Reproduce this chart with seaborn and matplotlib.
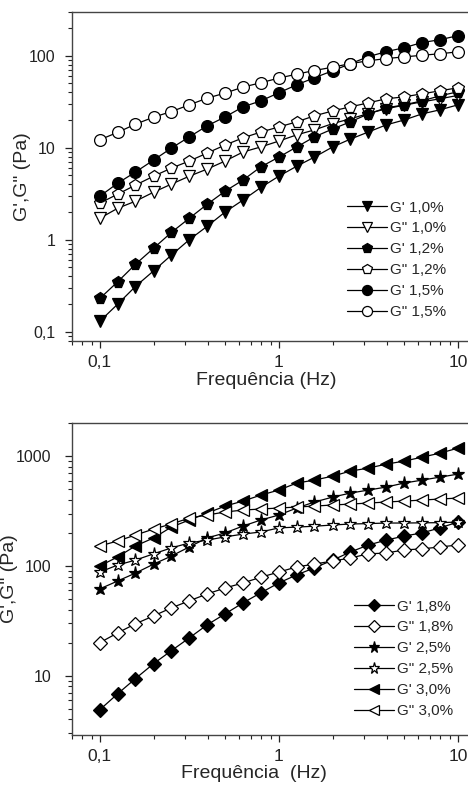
import numpy as np
import pandas as pd
import seaborn as sns
import matplotlib
matplotlib.use("Agg")
import matplotlib.pyplot as plt
from matplotlib.ticker import FuncFormatter, NullFormatter, LogLocator

# frequencies (Hz), 10 points per decade
freq = [0.1, 0.126, 0.158, 0.2, 0.251, 0.316, 0.398, 0.501, 0.631, 0.794,
        1.0, 1.26, 1.58, 2.0, 2.51, 3.16, 3.98, 5.01, 6.31, 7.94, 10.0]

# top panel (Pa)
g1_10 = [0.13, 0.20, 0.31, 0.46, 0.68, 1.0, 1.4, 2.0, 2.7, 3.7,
         4.9, 6.3, 7.9, 10.2, 12.4, 14.8, 17.7, 20.0, 23.3, 25.8, 29.2]
g2_10 = [1.71, 2.2, 2.62, 3.29, 4.02, 4.9, 5.86, 7.16, 8.98, 10.2,
         11.8, 13.8, 15.6, 18.3, 20.6, 23.5, 26.5, 29.0, 31.5, 34.0, 37.0]
g1_12 = [0.23, 0.35, 0.54, 0.81, 1.2, 1.71, 2.43, 3.37, 4.45, 6.2,
         7.9, 10.2, 13.1, 16.0, 19.1, 23.3, 27.1, 29.2, 32.3, 36.6, 40.5]
g2_12 = [2.5, 3.13, 3.92, 4.91, 6.0, 7.16, 8.75, 10.7, 12.8, 14.8,
         16.8, 19.1, 22.2, 25.1, 27.8, 30.7, 34.0, 35.7, 38.5, 41.5, 44.8]
g1_15 = [2.97, 4.12, 5.43, 7.35, 9.9, 13.1, 17.3, 21.6, 27.8, 32.3,
         39.5, 48.3, 57.5, 68.6, 81.8, 97.5, 110.6, 122, 139, 149, 165]
g2_15 = [12.2, 14.7, 18.0, 21.5, 24.7, 29.2, 34.6, 39.2, 45.6, 50.8,
         57.1, 63, 69, 75, 82, 88, 93, 97, 101, 105, 110]

# bottom panel (Pa)
g1_18 = [4.9, 6.86, 9.4, 12.9, 16.9, 22.1, 29.1, 36.6, 46.1, 57,
         70, 83, 96, 113, 134, 155, 172, 187, 200, 222, 251]
g2_18 = [20, 24.6, 29.7, 35.1, 41.5, 48.1, 55.6, 63, 70, 79,
         88, 98, 104, 111, 118, 129, 131, 140, 143, 149, 155]
g1_25 = [61.8, 73, 86, 104, 123, 149, 180, 200, 231, 262,
         291, 337, 382, 424, 461, 491, 523, 569, 605, 644, 686]
g2_25 = [88, 102, 113, 129, 146, 162, 172, 184, 195, 204,
         222, 226, 230, 236, 241, 243, 246, 246, 247, 248, 251]
g1_30 = [100, 121, 152, 180, 226, 262, 303, 351, 390, 442,
         491, 569, 605, 658, 731, 778, 846, 901, 979, 1065, 1182]
g2_30 = [152, 169, 191, 217, 241, 273, 291, 310, 323, 330,
         337, 344, 351, 359, 366, 374, 382, 390, 398, 407, 415]

top_series = [("G' 1,0%", g1_10, "v", True), ('G" 1,0%', g2_10, "v", False),
              ("G' 1,2%", g1_12, "p", True), ('G" 1,2%', g2_12, "p", False),
              ("G' 1,5%", g1_15, "o", True), ('G" 1,5%', g2_15, "o", False)]
bot_series = [("G' 1,8%", g1_18, "D", True), ('G" 1,8%', g2_18, "D", False),
              ("G' 2,5%", g1_25, "*", True), ('G" 2,5%', g2_25, "*", False),
              ("G' 3,0%", g1_30, "<", True), ('G" 3,0%', g2_30, "<", False)]

sns.set_style("ticks")
plt.rcParams["font.family"] = ["Liberation Sans", "DejaVu Sans"]

fig = plt.figure(figsize=(4.68, 7.85), dpi=100)
ax1 = fig.add_axes([0.154, 0.566, 0.846, 0.419])
ax2 = fig.add_axes([0.154, 0.064, 0.846, 0.397])

marker_size = {"v": 8.5, "p": 8.5, "o": 8.5, "D": 6.8, "*": 9.5, "<": 8.5}


def comma(v, pos):
    return ("%g" % v).replace(".", ",")


def draw(ax, series, ylim, xlabel, legend_xy, ypad, xlab_xy, ylab_x):
    ax.set_xscale("log")
    ax.set_yscale("log")
    for label, vals, mk, filled in series:
        sns.lineplot(x=freq, y=vals, ax=ax, color="black", lw=0.9,
                     marker=mk, markersize=marker_size[mk],
                     markeredgewidth=0.9, markeredgecolor="black",
                     markerfacecolor="black" if filled else "white",
                     label=label)
    ax.set_xlim(0.07, 11.4)
    ax.set_ylim(*ylim)
    ax.xaxis.set_major_locator(LogLocator(base=10))
    ax.yaxis.set_major_locator(LogLocator(base=10))
    ax.xaxis.set_minor_locator(LogLocator(base=10, subs=np.arange(2, 10)))
    ax.yaxis.set_minor_locator(LogLocator(base=10, subs=np.arange(2, 10)))
    ax.xaxis.set_major_formatter(FuncFormatter(comma))
    ax.yaxis.set_major_formatter(FuncFormatter(comma))
    ax.xaxis.set_minor_formatter(NullFormatter())
    ax.yaxis.set_minor_formatter(NullFormatter())
    ax.tick_params(which="major", direction="out", length=5, width=0.9,
                   colors="#222222")
    ax.tick_params(axis="x", which="major", labelsize=12.5, pad=5.5)
    ax.tick_params(axis="y", which="major", labelsize=11.5, pad=ypad)
    ax.tick_params(which="minor", direction="out", length=3, width=0.8,
                   colors="#222222")
    ax.spines["right"].set_visible(False)
    for s in ["left", "top", "bottom"]:
        ax.spines[s].set_color("#444444")
        ax.spines[s].set_linewidth(1.0)
    ax.set_xlabel(xlabel, fontsize=14, va="center")
    ax.xaxis.set_label_coords(*xlab_xy)
    ax.set_ylabel('G\',G" (Pa)', fontsize=14, va="center")
    ax.yaxis.set_label_coords(ylab_x, 0.5)
    ax.legend(loc="center left", bbox_to_anchor=legend_xy, frameon=False,
              fontsize=11, handlelength=2.6, handletextpad=0.2,
              labelspacing=0.45, borderpad=0, borderaxespad=0,
              markerscale=0.85)


draw(ax1, top_series, (0.08, 300), "Frequência (Hz)", (0.695, 0.246),
     7, (0.49, -0.12), -0.126)
draw(ax2, bot_series, (2.9, 2000), "Frequência  (Hz)", (0.712, 0.244),
     10, (0.46, -0.124), -0.157)

fig.savefig("out.png", dpi=100)
